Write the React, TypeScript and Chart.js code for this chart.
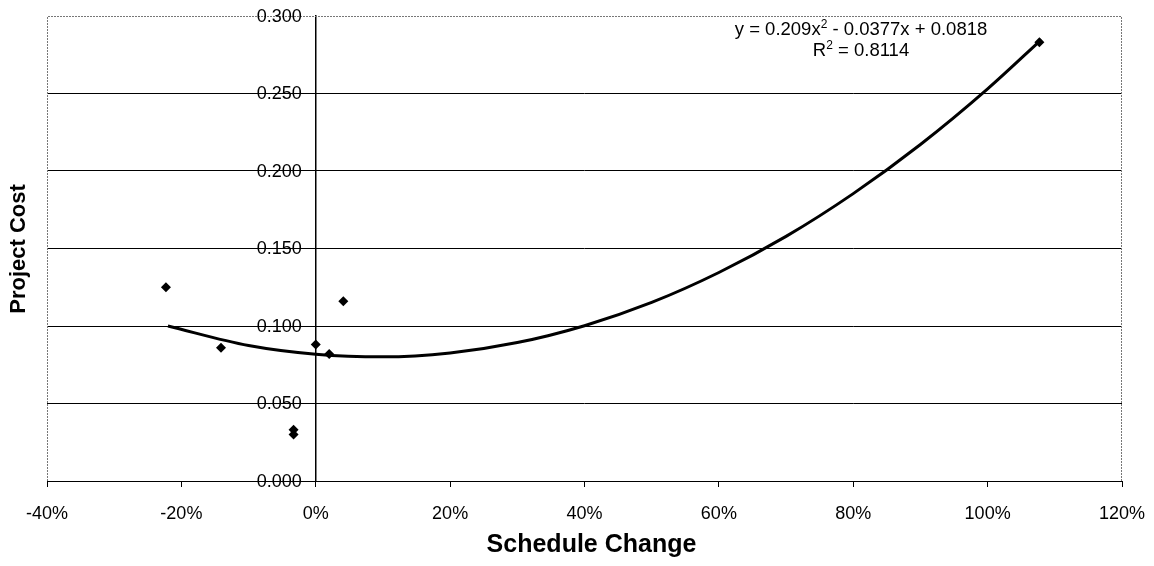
import React, { useEffect, useRef } from "react";
import { Chart, registerables } from "chart.js";

Chart.register(...registerables);

// Observed data points (schedule change, project cost)
const scheduleChange = [-0.223, -0.141, -0.033, -0.033, 0.0, 0.02, 0.041, 1.077];
const projectCost = [0.125, 0.086, 0.033, 0.030, 0.088, 0.082, 0.116, 0.283];

// Trendline points
const trendX = [-0.22, -0.1, 0, 0.1, 0.2, 0.3, 0.4, 0.5, 0.6, 0.7, 0.8, 0.9, 1.0, 1.08];
const trendY = [0.1, 0.0874, 0.0818, 0.0801, 0.0826, 0.0893, 0.1002, 0.1152, 0.1345, 0.1578, 0.1854, 0.2171, 0.253, 0.2848];

const xTickValues = [-0.4, -0.2, 0, 0.2, 0.4, 0.6, 0.8, 1.0, 1.2];
const yTickValues = [0, 0.05, 0.1, 0.15, 0.2, 0.25, 0.3];

const equationText = "y = 0.209x";
const equationRest = " - 0.0377x + 0.0818";
const rSquaredLabel = "R";
const rSquaredRest = " = 0.8114";
const xTitle = "Schedule Change";
const yTitle = "Project Cost";

const FONT = "'Liberation Sans', Arial, sans-serif";
const TICK_SIZE = 18;

const decorPlugin = {
  id: "decor",
  beforeDatasetsDraw(chart: any) {
    const { ctx, chartArea } = chart;
    ctx.save();
    ctx.strokeStyle = "#777";
    ctx.lineWidth = 1;
    ctx.setLineDash([2, 1]);
    ctx.beginPath();
    ctx.moveTo(chartArea.left + 0.5, chartArea.bottom);
    ctx.lineTo(chartArea.left + 0.5, chartArea.top + 0.5);
    ctx.lineTo(chartArea.right - 0.5, chartArea.top + 0.5);
    ctx.lineTo(chartArea.right - 0.5, chartArea.bottom);
    ctx.stroke();
    ctx.restore();
  },
  afterDraw(chart: any) {
    const { ctx, chartArea } = chart;
    const xs = chart.scales.x;
    const ys = chart.scales.y;
    ctx.save();
    ctx.fillStyle = "#000";

    // y tick labels, drawn left of the y axis that crosses at x = 0
    ctx.font = `${TICK_SIZE}px ${FONT}`;
    ctx.textAlign = "right";
    ctx.textBaseline = "middle";
    const axisX = xs.getPixelForValue(0);
    ys.ticks.forEach((t: any) => {
      ctx.fillText(Number(t.value).toFixed(3), axisX - 14, ys.getPixelForValue(t.value) + 1);
    });

    // axis titles
    ctx.font = `bold 25px ${FONT}`;
    ctx.textAlign = "center";
    ctx.textBaseline = "middle";
    ctx.fillText(xTitle, (chartArea.left + chartArea.right) / 2 + 7, 545);
    ctx.save();
    ctx.font = `bold 22px ${FONT}`;
    ctx.translate(19, 249);
    ctx.rotate(-Math.PI / 2);
    ctx.fillText(yTitle, 0, 0);
    ctx.restore();

    // equation
    const drawSup = (base: string, rest: string, cx: number, baseline: number) => {
      ctx.textBaseline = "alphabetic";
      ctx.textAlign = "left";
      ctx.font = `18.5px ${FONT}`;
      const w1 = ctx.measureText(base).width;
      const w3 = ctx.measureText(rest).width;
      ctx.font = `12px ${FONT}`;
      const w2 = ctx.measureText("2").width;
      const total = w1 + w2 + w3;
      let x = cx - total / 2;
      ctx.font = `18.5px ${FONT}`;
      ctx.fillText(base, x, baseline);
      x += w1;
      ctx.font = `12px ${FONT}`;
      ctx.fillText("2", x, baseline - 7);
      x += w2;
      ctx.font = `18.5px ${FONT}`;
      ctx.fillText(rest, x, baseline);
    };
    drawSup(equationText, equationRest, 861, 35);
    drawSup(rSquaredLabel, rSquaredRest, 861, 56);
    ctx.restore();
  },
};

export default function App() {
  const ref = useRef<HTMLCanvasElement>(null);
  useEffect(() => {
    if (!ref.current) return;
    const chart = new Chart(ref.current, {
      type: "scatter",
      data: {
        datasets: [
          {
            label: "Trend",
            data: trendX.map((x, i) => ({ x, y: trendY[i] })),
            showLine: true,
            borderColor: "#000",
            borderWidth: 3,
            pointRadius: 0,
            cubicInterpolationMode: "monotone",
            order: 2,
          } as any,
          {
            label: "Projects",
            data: scheduleChange.map((x, i) => ({ x, y: projectCost[i] })),
            pointStyle: "rectRot",
            pointRadius: 5,
            backgroundColor: "#000",
            borderColor: "#000",
            borderWidth: 0,
            order: 1,
          },
        ],
      },
      options: {
        responsive: false,
        animation: false,
        layout: { padding: { left: 47, right: 32, top: 16, bottom: 0 } },
        plugins: { legend: { display: false }, tooltip: { enabled: false } },
        scales: {
          x: {
            type: "linear",
            min: -0.4,
            max: 1.2,
            afterBuildTicks: (s: any) => {
              s.ticks = xTickValues.map((v) => ({ value: v }));
            },
            afterFit: (s: any) => {
              s.height = 85;
              s.paddingLeft = 0;
              s.paddingRight = 0;
            },
            ticks: {
              callback: (v: any) => `${Math.round(Number(v) * 100)}%`,
              font: { family: FONT, size: TICK_SIZE },
              color: "#000",
              padding: 16,
              maxRotation: 0,
            },
            grid: {
              drawOnChartArea: false,
              drawTicks: true,
              tickLength: 6,
              color: "#000",
            },
            border: { color: "#000", width: 1 },
          },
          y: {
            type: "linear",
            min: 0,
            max: 0.3,
            position: { x: 0 } as any,
            afterBuildTicks: (s: any) => {
              s.ticks = yTickValues.map((v) => ({ value: v }));
            },
            ticks: {
              display: false,
            },
            grid: {
              color: (c: any) => (c.tick && Math.abs(c.tick.value - 0.3) < 1e-9 ? "rgba(0,0,0,0)" : "#000"),
              lineWidth: 1,
              drawTicks: true,
              tickLength: 6,
            },
            border: { color: "#000", width: 1.5 },
          },
        },
      },
      plugins: [decorPlugin],
    });
    return () => chart.destroy();
  }, []);
  return (
    <div style={{ position: "fixed", left: 0, top: 0, width: 1154, height: 566, background: "#fff" }}>
      <canvas ref={ref} width={1154} height={566} />
    </div>
  );
}
